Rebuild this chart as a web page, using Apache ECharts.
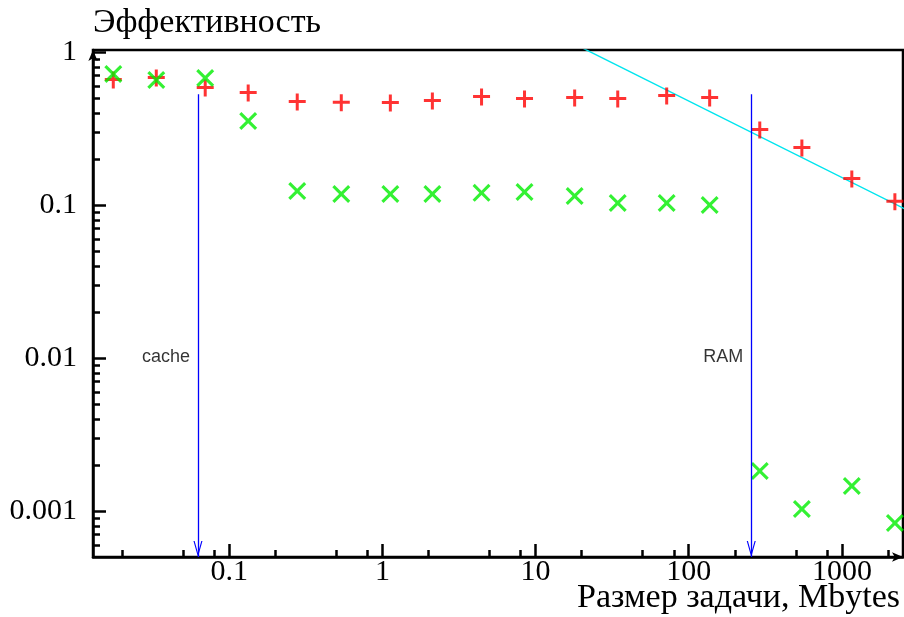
<!DOCTYPE html>
<html>
<head>
<meta charset="utf-8">
<script src="https://cdn.jsdelivr.net/npm/echarts@6/dist/echarts.min.js"></script>
<style>html,body{margin:0;padding:0;background:#fff}#c{width:904px;height:617px}</style>
</head>
<body>
<div id="c"></div>
<script>
// ---- data ----
const sizesMB = [0.0175, 0.0334, 0.0697, 0.133, 0.278, 0.539, 1.127, 2.12, 4.44, 8.47, 18.0, 34.4, 71.8, 137, 291, 548, 1161, 2218];
const redEff = [0.656, 0.676, 0.582, 0.540, 0.471, 0.466, 0.464, 0.478, 0.508, 0.493, 0.500, 0.493, 0.516, 0.500, 0.309, 0.236, 0.148, 0.105];
const greenEff = [0.718, 0.656, 0.676, 0.354, 0.1235, 0.118, 0.118, 0.118, 0.120, 0.1216, 0.1145, 0.103, 0.103, 0.100, 0.001825, 0.00103, 0.001456, 0.000835];
const fitX = [20, 2600];
const fitY = [1.068, 0.0937];
const markerNames = ['cache', 'RAM'];
const markerX = [0.0625, 256];
const markerTop = 0.53;
const markerLabelY = 0.0102;
const xMajor = [0.1, 1, 10, 100, 1000];
const xMinor = [0.02, 0.05, 0.08, 0.2, 0.5, 0.8, 2, 5, 8, 20, 50, 80, 200, 500, 800, 2000];
const yMajor = [0.001, 0.01, 0.1, 1];
const yMinor = [0.0006, 0.0007, 0.0008, 0.0009,
  0.002, 0.003, 0.004, 0.005, 0.006, 0.007, 0.008, 0.009,
  0.02, 0.03, 0.04, 0.05, 0.06, 0.07, 0.08, 0.09,
  0.2, 0.3, 0.4, 0.5, 0.6, 0.7, 0.8, 0.9];
const xRange = [0.0129, 2506];
const yRange = [0.0005, 1.03];
const xTitle = 'Размер задачи, Mbytes';
const yTitle = 'Эффективность';

const serif = 'Liberation Serif';
const fmt = v => String(v);

const plusPath = 'path://M0,6.5 L17,6.5 L17,9.5 L0,9.5 Z M7,0 L10,0 L10,17 L7,17 Z';
const crossPath = 'path://M0,2.2 L2.2,0 L9,6.8 L15.8,0 L18,2.2 L11.2,9 L18,15.8 L15.8,18 L9,11.2 L2.2,18 L0,15.8 L6.8,9 Z';
const vArrow = 'path://M5,0 L10,14 L8.7,14 L5,3.6 L1.3,14 L0,14 Z';

const chart = echarts.init(document.getElementById('c'), null, {renderer: 'canvas'});
const option = {
  animation: false,
  backgroundColor: '#fff',
  title: {
    text: xTitle, right: 4, top: 581, padding: 0,
    textStyle: {fontFamily: serif, fontSize: 34, fontWeight: 'normal', color: '#000'}
  },
  grid: {left: 93, right: 1, top: 50, bottom: 60, show: true, borderColor: '#000', borderWidth: 2.5, containLabel: false, outerBoundsMode: 'none'},
  xAxis: [{
    type: 'log', min: xRange[0], max: xRange[1],
    axisLine: {show: true, lineStyle: {color: '#000', width: 2.5}, symbol: ['none', 'arrow'], symbolSize: [7, 11]},
    axisTick: {show: true, inside: true, length: 13, lineStyle: {color: '#000', width: 2.5}, customValues: xMajor},
    axisLabel: {show: true, customValues: xMajor, formatter: fmt, fontFamily: serif, fontSize: 30, color: '#000', margin: 0},
    splitLine: {show: false}
  }, {
    type: 'log', min: xRange[0], max: xRange[1], position: 'bottom',
    axisLine: {show: false},
    axisTick: {show: true, inside: true, length: 7, lineStyle: {color: '#000', width: 2.5}, customValues: xMinor},
    axisLabel: {show: false},
    splitLine: {show: false}
  }],
  yAxis: [{
    type: 'log', min: yRange[0], max: yRange[1],
    name: yTitle, nameLocation: 'end', nameGap: 27,
    nameTextStyle: {fontFamily: serif, fontSize: 34, color: '#000', align: 'left', verticalAlign: 'middle'},
    axisLine: {show: true, lineStyle: {color: '#000', width: 2.5}, symbol: ['none', 'arrow'], symbolSize: [7, 11]},
    axisTick: {show: true, inside: true, length: 13, lineStyle: {color: '#000', width: 2.5}, customValues: yMajor},
    axisLabel: {show: true, customValues: yMajor, formatter: fmt, fontFamily: serif, fontSize: 30, color: '#000', margin: 16},
    splitLine: {show: false}
  }, {
    type: 'log', min: yRange[0], max: yRange[1], position: 'left',
    axisLine: {show: false},
    axisTick: {show: true, inside: true, length: 7, lineStyle: {color: '#000', width: 2.5}, customValues: yMinor},
    axisLabel: {show: false},
    splitLine: {show: false}
  }],
  series: [{
    name: 'fit', type: 'line', clip: true, symbol: 'none',
    lineStyle: {color: '#00e5ee', width: 1.4},
    data: fitX.map((x, i) => [x, fitY[i]]),
    z: 1
  }, {
    name: 'markers', type: 'scatter', symbol: 'circle', symbolSize: 2,
    itemStyle: {color: 'rgba(0,0,0,0)'},
    data: markerX.map((x, i) => ({name: markerNames[i], value: [x, markerLabelY]})),
    label: {show: true, position: 'left', distance: 7, formatter: '{b}', fontFamily: 'Liberation Sans', fontSize: 18, color: '#000'},
    labelLayout: {hideOverlap: false},
    markLine: {
      silent: true, symbol: ['none', vArrow], symbolSize: [9, 16], symbolOffset: [0, [0, 8]],
      lineStyle: {color: '#0000ff', width: 1.3, type: 'solid'},
      label: {show: false},
      data: markerX.map(x => [{coord: [x, markerTop]}, {coord: [x, yRange[0]]}])
    },
    z: 2
  }, {
    name: 'red', type: 'scatter', symbol: plusPath, symbolSize: 17,
    itemStyle: {color: '#ff0000'},
    data: sizesMB.map((x, i) => [x, redEff[i]]),
    z: 3
  }, {
    name: 'green', type: 'scatter', symbol: crossPath, symbolSize: 18,
    itemStyle: {color: '#00ee00'},
    data: sizesMB.map((x, i) => [x, greenEff[i]]),
    z: 4
  }]
};
chart.setOption(option);
</script>
</body>
</html>
